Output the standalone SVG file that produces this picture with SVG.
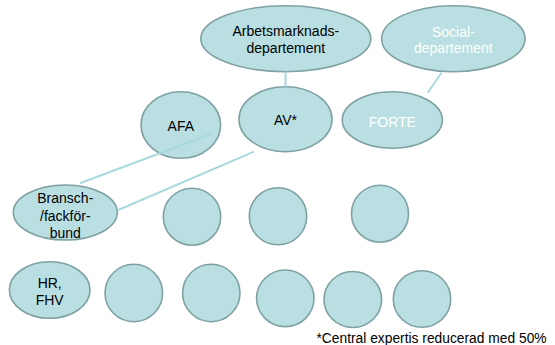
<svg xmlns="http://www.w3.org/2000/svg" width="555" height="345" viewBox="0 0 555 345">
<style>
.n{fill:#b9dfe2;stroke:#7fa1a3;stroke-width:1.6}
.t{font-family:"Liberation Sans",Arial,sans-serif;font-size:14px;fill:#000;text-anchor:middle}
.w{fill:#ffffff}
.c{stroke:#a8d9de;stroke-width:2;fill:none}
</style>
<rect width="555" height="345" fill="#ffffff"/>
<g id="arbetsmarknadsdepartement"><ellipse class="n" cx="285.8" cy="38.7" rx="85" ry="33"/><text class="t" x="285.8" y="36">Arbetsmarknads-</text><text class="t" x="285.8" y="53">departement</text></g>
<g id="socialdepartement"><ellipse class="n" cx="453.3" cy="38.7" rx="71.7" ry="33"/><text class="t w" x="453.3" y="37">Social-</text><text class="t w" x="453.3" y="53">departement</text></g>
<g id="afa"><ellipse class="n" cx="180.8" cy="125" rx="39.8" ry="33.3"/><text class="t" x="180.8" y="131">AFA</text></g>
<g id="av"><ellipse class="n" cx="285.5" cy="119.2" rx="46.5" ry="32.5"/><text class="t" x="285.5" y="125">AV*</text></g>
<g id="forte"><ellipse class="n" cx="392.3" cy="120" rx="50" ry="28.3"/><text class="t w" x="392.3" y="126.5">FORTE</text></g>
<g id="bransch"><ellipse class="n" cx="65.3" cy="212.5" rx="52" ry="27.5"/><text class="t" x="65.3" y="203">Bransch-</text><text class="t" x="65.3" y="221">/fackför-</text><text class="t" x="65.3" y="238">bund</text></g>
<g id="r2c1"><ellipse class="n" cx="192" cy="216.7" rx="28.7" ry="28.5"/></g>
<g id="r2c2"><ellipse class="n" cx="278" cy="216.3" rx="28.7" ry="28.5"/></g>
<g id="r2c3"><ellipse class="n" cx="380" cy="213.7" rx="28.5" ry="28.5"/></g>
<g id="hr"><ellipse class="n" cx="49.7" cy="290" rx="40.3" ry="28.3"/><text class="t" x="49.7" y="288">HR,</text><text class="t" x="49.7" y="304.5">FHV</text></g>
<g id="r3c1"><ellipse class="n" cx="133.8" cy="293" rx="28.8" ry="28.7"/></g>
<g id="r3c2"><ellipse class="n" cx="211.3" cy="293" rx="28.7" ry="28.7"/></g>
<g id="r3c3"><ellipse class="n" cx="285.3" cy="298.3" rx="28.7" ry="28.3"/></g>
<g id="r3c4"><ellipse class="n" cx="352.8" cy="299.5" rx="28.8" ry="28"/></g>
<g id="r3c5"><ellipse class="n" cx="422" cy="299" rx="28.7" ry="28.3"/></g>
<g id="connectors">
<line class="c" x1="285.5" y1="71.7" x2="285.5" y2="86.7"/>
<line class="c" x1="441.7" y1="72.5" x2="427.7" y2="92.7"/>
<line class="c" x1="211" y1="134" x2="80" y2="183.3"/>
<line class="c" x1="254" y1="151.7" x2="118.3" y2="210"/>
</g>
<text class="t" style="text-anchor:start;font-size:13.8px" x="316.5" y="343">*Central expertis reducerad med 50%</text>
</svg>
